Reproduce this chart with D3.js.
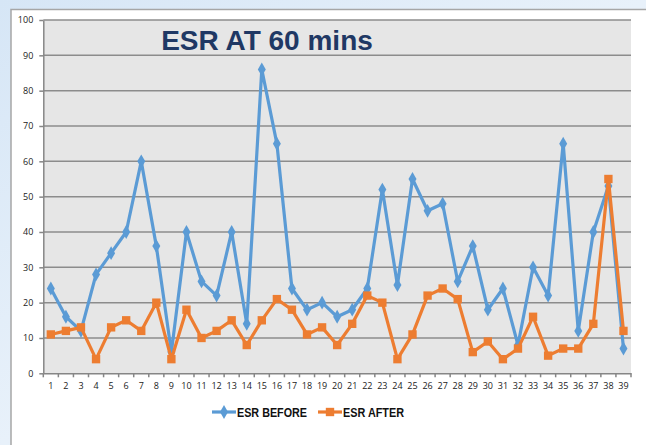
<!DOCTYPE html>
<html lang="en">
<head>
    <meta charset="UTF-8">
    <title>ESR AT 60 mins</title>
    <script src="https://d3js.org/d3.v7.min.js"></script>
    <style>
        body { margin: 0; overflow: hidden; }
        .grid line { stroke: #8c8c8c; stroke-width: 1.5; }
        .axis text { font-family: "Open Sans", sans-serif; font-size: 9px; fill: #222; }
        .axis path, .axis line { stroke: #868686; stroke-width: 1.5; }
    </style>
</head>
<body>
    <svg id="chart" width="646" height="445"></svg>

    <script>
        // patients 1..39
        const categories = d3.range(1, 40);
        const esrBefore = [24, 16, 12, 28, 34, 40, 60, 36, 6, 40, 26, 22, 40, 14, 86, 65, 24, 18, 20, 16,
                           18, 24, 52, 25, 55, 46, 48, 26, 36, 18, 24, 8, 30, 22, 65, 12, 40, 53, 7];
        const esrAfter = [11, 12, 13, 4, 13, 15, 12, 20, 4, 18, 10, 12, 15, 8, 15, 21, 18, 11, 13, 8,
                          14, 22, 20, 4, 11, 22, 24, 21, 6, 9, 4, 7, 16, 5, 7, 7, 14, 55, 12];
        const yTicks = d3.range(0, 101, 10);
        const seriesNames = ['ESR BEFORE', 'ESR AFTER'];
        const colors = ['#5b9bd5', '#ed7d31'];

        const svg = d3.select('#chart');
        const plot = { left: 43.3, right: 631, top: 20, bottom: 373.3 };

        // slide-like background
        const defs = svg.append('defs');
        const grad = defs.append('linearGradient').attr('id', 'bg').attr('x1', 0).attr('y1', 0).attr('x2', 1).attr('y2', 1);
        grad.append('stop').attr('offset', '0%').attr('stop-color', '#d6e6f6');
        grad.append('stop').attr('offset', '50%').attr('stop-color', '#e8f1fa');
        grad.append('stop').attr('offset', '100%').attr('stop-color', '#d9e8f6');
        svg.append('rect').attr('width', 646).attr('height', 445).attr('fill', 'url(#bg)');

        // chart box
        svg.append('rect')
            .attr('x', 11).attr('y', 9.5)
            .attr('width', 660).attr('height', 460)
            .attr('fill', '#ffffff')
            .attr('stroke', '#a6a6a6')
            .attr('stroke-width', 1.5);

        svg.append('rect')
            .attr('x', plot.left).attr('y', plot.top)
            .attr('width', plot.right - plot.left).attr('height', plot.bottom - plot.top)
            .attr('fill', '#e6e6e6');

        const x = d3.scaleBand().domain(categories).range([plot.left, plot.right]);
        const y = d3.scaleLinear().domain([0, 100]).range([plot.bottom, plot.top]);
        const cx = d => x(d) + x.bandwidth() / 2;

        // gridlines
        svg.append('g').attr('class', 'grid')
            .selectAll('line').data(yTicks.filter(t => t > 0)).join('line')
            .attr('x1', plot.left).attr('x2', plot.right)
            .attr('y1', d => y(d)).attr('y2', d => y(d));

        // y axis
        svg.append('g').attr('class', 'axis')
            .attr('transform', `translate(${plot.left},0)`)
            .call(d3.axisLeft(y).tickValues(yTicks).tickSize(4).tickSizeOuter(0).tickPadding(6));

        // x axis: labels centred, ticks between categories
        const xAxis = svg.append('g').attr('class', 'axis')
            .attr('transform', `translate(0,${plot.bottom})`)
            .call(d3.axisBottom(x).tickSize(0).tickSizeOuter(0).tickPadding(9));
        xAxis.selectAll('.tick-sep')
            .data(categories.concat([null])).join('line')
            .attr('class', 'tick-sep')
            .attr('x1', d => d === null ? plot.right : x(d))
            .attr('x2', d => d === null ? plot.right : x(d))
            .attr('y1', 0).attr('y2', 4);

        const line = d3.line().x((d, i) => cx(categories[i])).y(d => y(d));
        const diamond = d3.symbol().type(d3.symbolDiamond).size(55);
        const square = d3.symbol().type(d3.symbolSquare).size(70);

        [esrBefore, esrAfter].forEach((vals, k) => {
            svg.append('path')
                .datum(vals)
                .attr('fill', 'none')
                .attr('stroke', colors[k])
                .attr('stroke-width', 3.2)
                .attr('stroke-linejoin', 'round')
                .attr('d', line);
            svg.append('g').selectAll('path').data(vals).join('path')
                .attr('transform', (d, i) => `translate(${cx(categories[i])},${y(d)})`)
                .attr('d', k === 0 ? diamond : square)
                .attr('fill', colors[k]);
        });

        // title
        svg.append('text')
            .attr('x', 267).attr('y', 50)
            .attr('text-anchor', 'middle')
            .attr('font-family', '"Liberation Sans", Arial, sans-serif')
            .attr('font-weight', 'bold')
            .attr('font-size', 28)
            .attr('fill', '#1f3864')
            .text('ESR AT 60 mins');

        // legend
        const legendX = [212, 318];
        const legendW = [70, 61];
        const legend = svg.append('g');
        seriesNames.forEach((name, k) => {
            const lx = legendX[k];
            legend.append('line')
                .attr('x1', lx).attr('x2', lx + 24)
                .attr('y1', 412).attr('y2', 412)
                .attr('stroke', colors[k]).attr('stroke-width', 3.2);
            legend.append('path')
                .attr('transform', `translate(${lx + 12},412)`)
                .attr('d', k === 0 ? diamond : square)
                .attr('fill', colors[k]);
            legend.append('text')
                .attr('x', lx + 25).attr('y', 417)
                .attr('font-family', '"Liberation Sans", Arial, sans-serif')
                .attr('font-weight', 'bold')
                .attr('font-size', 13.5)
                .attr('textLength', legendW[k])
                .attr('lengthAdjust', 'spacingAndGlyphs')
                .attr('fill', '#111')
                .text(name);
        });
    </script>
</body>
</html>
